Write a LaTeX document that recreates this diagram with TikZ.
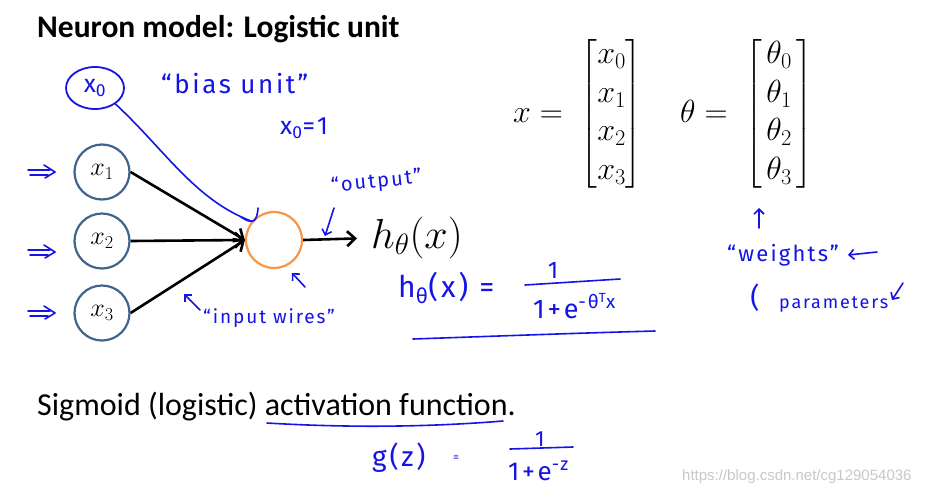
\RequirePackage{fix-cm}
\documentclass[tikz,border=0pt]{standalone}
\usepackage{amsmath}
\usepackage[no-math]{fontspec}
\setmainfont{Carlito}
\newfontfamily\hand[LetterSpace=10]{Fira Sans}
\newfontfamily\wmfont{Liberation Sans}
\usetikzlibrary{arrows.meta,shapes.geometric}
\definecolor{ink}{RGB}{20,20,230}
\definecolor{nodeblue}{RGB}{65,100,140}
\definecolor{neuron}{RGB}{247,150,70}
\definecolor{wm}{RGB}{200,200,200}
\begin{document}
\begin{tikzpicture}[x=1pt,y=-1pt,
  inode/.style={circle, draw=nodeblue, line width=2.2pt, minimum size=55pt, inner sep=0pt, font=\fontsize{26}{28}\selectfont},
  wire/.style={line width=2.6pt, -{Straight Barb[length=8pt,width=15pt]}},
  hw/.style={text=ink, font=\hand\fontsize{20}{22}\selectfont, inner sep=0pt},
  pen/.style={draw=ink, line width=1.6pt, line cap=round, line join=round},
  penarrow/.style={pen, -{Straight Barb[length=5pt,width=10pt]}}
]
\useasboundingbox (0,0) rectangle (936,493);
\fill[white] (0,0) rectangle (936,493);

% title
\node[anchor=base west, font=\fontsize{31.5}{36}\selectfont\bfseries, inner sep=0pt] (title) at (37,37) {Neuron model: Logistic unit};

% network
\node[inode] (x1) at (102,172) {$x_1$};
\node[inode] (x2) at (102,241) {$x_2$};
\node[inode] (x3) at (102,313) {$x_3$};
\node[circle, draw=neuron, line width=2.2pt, minimum size=56pt, inner sep=0pt] (n) at (274,240) {};
\draw[wire] (x1.east) -- (n.west);
\draw[wire] (x2.east) -- (n.west);
\draw[wire] (x3.east) -- (n.west);
\node[anchor=west, font=\fontsize{42}{44}\selectfont, inner sep=0pt] (h) at (371,238) {$h_\theta(x)$};
\draw[wire, shorten >=14pt] (n.east) -- (h.west);

% vectors
\node[anchor=west, font=\fontsize{32}{38.5}\selectfont, inner sep=0pt] (xv) at (513,114)
  {$x = \;\begin{bmatrix}x_0\\ x_1\\ x_2\\ x_3\end{bmatrix}$};
\node[anchor=west, font=\fontsize{32}{38.5}\selectfont, inner sep=0pt] (tv) at (680,114)
  {$\theta = \;\begin{bmatrix}\mkern2.5mu\theta_0\mkern2.5mu\\ \mkern2.5mu\theta_1\mkern2.5mu\\ \mkern2.5mu\theta_2\mkern2.5mu\\ \mkern2.5mu\theta_3\mkern2.5mu\end{bmatrix}$};

% bias unit
\node[ellipse, draw=ink, line width=1.8pt, minimum width=58pt, minimum height=42pt, inner sep=0pt, text=ink, font=\hand\fontsize{25}{27}\selectfont] (x0) at (95,88) {x\textsubscript{0}};
\node[hw, anchor=west, font=\hand\fontsize{26}{28}\selectfont] (bias) at (161,84) {“bias unit”};
\node[hw, anchor=west, font=\hand\fontsize{25}{27}\selectfont] (x0eq) at (280,128) {x\textsubscript{0}=1};
\draw[pen] (x0.-38) .. controls (165,150) and (195,200) .. (n.140);
\draw[pen] (241,217) .. controls (250,223) and (257,225) .. (258,208);

% input arrows
\foreach \y in {172,252,313} {
  \draw[pen] (28,\y-2) -- (50,\y-2);
  \draw[pen] (30,\y+3) -- (48,\y+3);
  \draw[pen] (44,\y-7) -- (55,\y) -- (45,\y+6);
}

% output label
\node[hw, anchor=west, rotate=6, font=\hand\fontsize{20}{22}\selectfont] (outl) at (331,187) {“output”};
\coordinate (oa) at (334,208);
\coordinate (ob) at (325,236);
\draw[penarrow] (oa) -- (ob);
\coordinate (na) at (305,287);
\coordinate (nb) at (292,273);
\draw[penarrow] (na) -- (nb);

% input wires
\node[hw, anchor=west, font=\hand\fontsize{19}{21}\selectfont] (inw) at (203,318) {“input wires”};
\coordinate (ia) at (200,310);
\coordinate (ib) at (184,294);
\draw[penarrow] (ia) -- (ib);

% h formula
\node[hw, anchor=west, font=\hand\fontsize{30}{32}\selectfont] (hf) at (398,288) {h\textsubscript{θ}(x) =};
\node[hw, font=\hand\fontsize{24}{26}\selectfont] (num) at (553,270) {1};
\coordinate (fb1) at (525,285);
\coordinate (fb2) at (620,279);
\draw[pen] (fb1) -- (fb2);
\node[hw, anchor=west, font=\hand\fontsize{27}{29}\selectfont] (den) at (533,306) {1+e\textsuperscript{-θ\textsuperscript{T}x}};
\coordinate (u1) at (413,339);
\coordinate (u2) at (655,331);
\draw[pen] (u1) .. controls (500,336) and (580,333) .. (u2);

% weights
\node[hw, anchor=west, font=\hand\fontsize{22}{24}\selectfont] (wt) at (727,255) {“weights”};
\coordinate (wa) at (759,228);
\coordinate (wb) at (759,208);
\draw[penarrow] (wa) -- (wb);
\coordinate (wc) at (877,252);
\coordinate (wd) at (848,255);
\draw[penarrow] (wc) -- (wd);
\node[hw, font=\hand\fontsize{28}{30}\selectfont] (par) at (755,298) {(};
\node[hw, anchor=west, font=\hand\fontsize{18}{20}\selectfont] (pm) at (779,304) {parameters};
\coordinate (pa) at (903,283);
\coordinate (pb) at (892,300);
\draw[penarrow] (pa) -- (pb);

% sigmoid
\node[anchor=base west, font=\fontsize{32}{36}\selectfont, inner sep=0pt] (sig) at (37,415) {Sigmoid (logistic) activation function.};
\coordinate (s1) at (267,423);
\coordinate (s2) at (503,421);
\draw[pen] (s1) .. controls (350,428) and (430,427) .. (s2);
\node[hw, anchor=west, font=\hand\fontsize{28}{30}\selectfont] (gz) at (372,458) {g(z)};
\node[hw, font=\hand\fontsize{12}{14}\selectfont] (geq) at (456,459) {=};
\node[hw, font=\hand\fontsize{22}{24}\selectfont] (gn) at (540,439) {1};
\coordinate (g1) at (510,449);
\coordinate (g2) at (573,447);
\draw[pen] (g1) -- (g2);
\node[hw, anchor=west, font=\hand\fontsize{26}{28}\selectfont] (gd) at (508,471) {1+e\textsuperscript{-z}};

% watermark
\node[anchor=west, text=wm, font=\wmfont\fontsize{15}{16}\selectfont, inner sep=0pt] (wmk) at (682,477) {https://blog.csdn.net/cg129054036};
\end{tikzpicture}
\end{document}
